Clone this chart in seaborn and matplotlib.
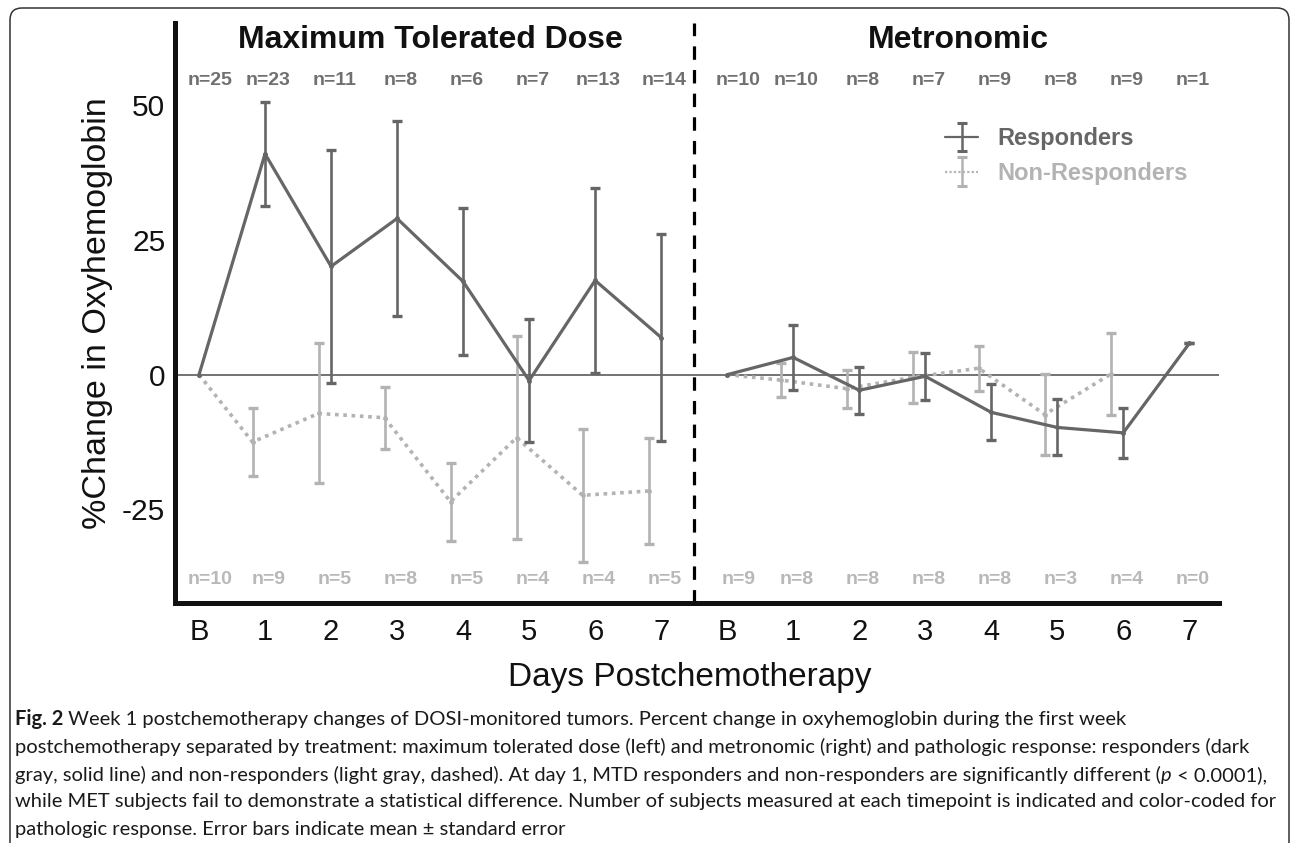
import numpy as np
import pandas as pd
import matplotlib
matplotlib.use("Agg")
import matplotlib.pyplot as plt
import seaborn as sns
from matplotlib.patches import FancyBboxPatch
from matplotlib.container import ErrorbarContainer
from matplotlib.legend_handler import HandlerErrorbar

# ---------------- data ----------------
day_labels = ["B", "1", "2", "3", "4", "5", "6", "7"]
treatments = ["Maximum Tolerated Dose", "Metronomic"]
responses = ["Responders", "Non-Responders"]

mtd_resp_mean = [0, 41.0, 20.1, 29.0, 17.3, -1.1, 17.5, 6.9]
mtd_resp_err = [0, 9.7, 21.6, 18.1, 13.6, 11.4, 17.1, 19.2]
mtd_nonresp_mean = [0, -12.5, -7.2, -8.0, -23.6, -11.7, -22.4, -21.6]
mtd_nonresp_err = [0, 6.4, 13.0, 5.8, 7.2, 18.8, 12.4, 9.8]
met_resp_mean = [0, 3.2, -2.9, -0.3, -7.0, -9.8, -10.8, 5.8]
met_resp_err = [0, 6.1, 4.4, 4.4, 5.2, 5.2, 4.7, 0]
met_nonresp_mean = [0, -1.0, -2.6, -0.5, 1.2, -7.4, 0.1, np.nan]
met_nonresp_err = [0, 3.1, 3.5, 4.8, 4.2, 7.6, 7.6, np.nan]

mtd_resp_n = [25, 23, 11, 8, 6, 7, 13, 14]
mtd_nonresp_n = [10, 9, 5, 8, 5, 4, 4, 5]
met_resp_n = [10, 10, 8, 7, 9, 8, 9, 1]
met_nonresp_n = [9, 8, 8, 8, 8, 3, 4, 0]

caption_lines = [
    "Week 1 postchemotherapy changes of DOSI-monitored tumors. Percent change in oxyhemoglobin during the first week",
    "postchemotherapy separated by treatment: maximum tolerated dose (left) and metronomic (right) and pathologic response: responders (dark",
    "gray, solid line) and non-responders (light gray, dashed). At day 1, MTD responders and non-responders are significantly different (",
    "while MET subjects fail to demonstrate a statistical difference. Number of subjects measured at each timepoint is indicated and color-coded for",
    "pathologic response. Error bars indicate mean \u00b1 standard error",
]

# ---------------- style ----------------
sns.set_theme(style="white")
plt.rcParams["font.family"] = ["Liberation Sans", "DejaVu Sans"]

R_COL = "#666666"
NR_COL = "#b3b3b3"
R_TXT = "#707070"
NR_TXT = "#b8b8b8"

W, H = 1292, 843
fig = plt.figure(figsize=(W / 100, H / 100), dpi=100)

def fx(px):
    return px / W

def fy(py):
    return 1 - py / H

# frame around figure + caption
bg = fig.add_axes([0, 0, 1, 1], zorder=-5)
bg.set_xlim(0, W)
bg.set_ylim(H, 0)
bg.axis("off")
bg.add_patch(FancyBboxPatch((10, 8), 1279, 880, boxstyle="round,pad=0,rounding_size=12",
                            fill=False, ec="#333333", lw=1.1, clip_on=False))

ax_l, ax_r, ax_t, ax_b = 175, 1219, 23, 603
ax = fig.add_axes([fx(ax_l), fy(ax_b), (ax_r - ax_l) / W, (ax_b - ax_t) / H])
ax.set_facecolor("none")

# ---------------- long table ----------------
group_offset = {"Maximum Tolerated Dose": 0, "Metronomic": 8}
nr_shift = -0.19
series = {
    ("Maximum Tolerated Dose", "Responders"): (mtd_resp_mean, mtd_resp_err, mtd_resp_n),
    ("Maximum Tolerated Dose", "Non-Responders"): (mtd_nonresp_mean, mtd_nonresp_err, mtd_nonresp_n),
    ("Metronomic", "Responders"): (met_resp_mean, met_resp_err, met_resp_n),
    ("Metronomic", "Non-Responders"): (met_nonresp_mean, met_nonresp_err, met_nonresp_n),
}
rows = []
for (trt, resp), (m, e, n) in series.items():
    for d in range(len(day_labels)):
        x = group_offset[trt] + d + (nr_shift if (resp == "Non-Responders" and d > 0) else 0)
        rows.append(dict(treatment=trt, response=resp, day=day_labels[d], pos=group_offset[trt] + d,
                         x=x, mean=m[d], err=e[d], n=n[d]))
df = pd.DataFrame(rows)

ax.axhline(0, color="#4d4d4d", lw=1.1, zorder=1)
ax.axvline(7.5, color="black", lw=2.3, ls=(0, (4.2, 3.2)), zorder=1)

style = {
    "Non-Responders": dict(color=NR_COL, lw=2.6, ls=(0, (1, 1.3)), zorder=2),
    "Responders": dict(color=R_COL, lw=2.3, ls="-", zorder=4),
}
for resp in ["Non-Responders", "Responders"]:
    sub = df[(df.response == resp) & df["mean"].notna()]
    st = style[resp]
    sns.lineplot(data=sub, x="x", y="mean", units="treatment", estimator=None, sort=False,
                 color=st["color"], lw=st["lw"], linestyle=st["ls"], zorder=st["zorder"],
                 marker="o", markersize=3.5, markeredgewidth=0, legend=False, ax=ax)
    eb = sub[sub.day != "B"]
    ax.errorbar(eb["x"], eb["mean"], yerr=eb["err"], fmt="none", ecolor=st["color"],
                elinewidth=1.9, capsize=3.6, capthick=2.4, zorder=st["zorder"] + 1)

# n labels
for (trt, resp), (m, e, n) in series.items():
    y = 54.7 if resp == "Responders" else -38.1
    col = R_TXT if resp == "Responders" else NR_TXT
    for d, nv in enumerate(n):
        xp = group_offset[trt] + d + (0.17 if d == 0 else 0.05)
        ax.text(xp, y, f"n={nv}", ha="center", va="center", fontsize=14, fontweight="bold", color=col)

# panel titles
for trt in treatments:
    ax.text(group_offset[trt] + 3.5, 62.2, trt, ha="center", va="center", fontsize=23,
            fontweight="bold", color="#111111")

# legend proxies
h1 = ax.errorbar([np.nan], [np.nan], yerr=[1], fmt="-", color=R_COL, lw=1.6, elinewidth=1.8,
                 capsize=3.4, capthick=2.2, label="Responders")
h2 = ax.errorbar([np.nan], [np.nan], yerr=[1], fmt="-", color=NR_COL, lw=1.6, ls=(0, (1, 1)),
                 elinewidth=1.8, capsize=3.4, capthick=2.2, label="Non-Responders")
leg = ax.legend(handles=[h1, h2], loc="upper left", bbox_to_anchor=(fx(945), fy(127)),
                bbox_transform=fig.transFigure, frameon=False,
                prop={"weight": "bold", "size": 17}, handlelength=1.4, handletextpad=0.8,
                labelspacing=0.5, borderpad=0, borderaxespad=0,
                handler_map={ErrorbarContainer: HandlerErrorbar(xerr_size=0.5, yerr_size=0.6)})
for txt, c in zip(leg.get_texts(), [R_COL, NR_COL]):
    txt.set_color(c)

# axes
ax.set_xlim(-0.364, 15.45)
ax.set_ylim(-42.4, 65.3)
ax.set_xticks(range(16))
ax.set_xticklabels(day_labels + day_labels)
ax.set_yticks([-25, 0, 25, 50])
ax.set_yticklabels(["-25", "0", "25", "50"])
ax.tick_params(axis="x", length=0, pad=11, labelsize=21, colors="#111111")
ax.tick_params(axis="y", length=0, pad=7, labelsize=21.5, colors="#111111")
for s in ["top", "right"]:
    ax.spines[s].set_visible(False)
for s in ["left", "bottom"]:
    ax.spines[s].set_color("#111111")
    ax.spines[s].set_linewidth(3.6)
    ax.spines[s].set_capstyle("projecting")
ax.set_xlabel("Days Postchemotherapy", fontsize=24, color="#111111")
ax.xaxis.set_label_coords(0.493, -0.129)
ax.xaxis.label.set_va("center")
ax.set_ylabel("%Change in Oxyhemoglobin", fontsize=24.5, color="#111111")
ax.yaxis.set_label_coords(-0.0738, 0.5)
ax.yaxis.label.set_va("center")

# ---------------- caption ----------------
cap_font = ["Lato", "DejaVu Sans"]
fig.canvas.draw()
rend = fig.canvas.get_renderer()
widest = 0
for s in caption_lines:
    probe = fig.text(0, 0, s, fontsize=12, family=cap_font)
    widest = max(widest, probe.get_window_extent(rend).width)
    probe.remove()
cfs = 12 * (1274 - 15) / widest
line_y = [719, 747, 775, 802, 829]
x0 = 15

def put(xpx, ypx, s, **kw):
    t = fig.text(fx(xpx), fy(ypx), s, fontsize=cfs, family=cap_font, va="center", ha="left",
                 color="#1a1a1a", **kw)
    return t, t.get_window_extent(rend).x1

_, xe = put(x0, line_y[0], "Fig. 2", fontweight="bold")
put(xe, line_y[0], " " + caption_lines[0])
put(x0, line_y[1], caption_lines[1])
_, xe = put(x0, line_y[2], caption_lines[2])
_, xe = put(xe, line_y[2], "p", style="italic")
put(xe, line_y[2], " < 0.0001),")
put(x0, line_y[3], caption_lines[3])
put(x0, line_y[4], caption_lines[4])

fig.savefig("out.png", dpi=100)
